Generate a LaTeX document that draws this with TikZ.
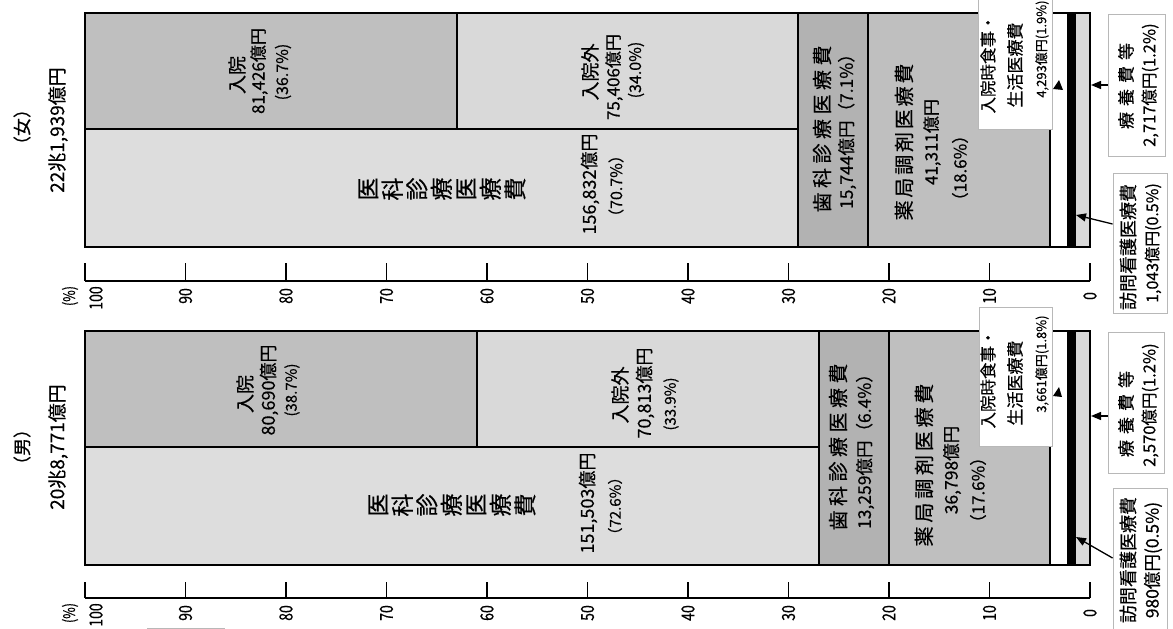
\documentclass[tikz,border=0pt]{standalone}
\usepackage{fontspec}
\setmainfont{Noto Sans CJK JP}[FakeBold=0.4]
\newfontfamily\jpn{Noto Sans CJK JP}[FakeStretch=0.78,FakeBold=0.4]
\usetikzlibrary{arrows.meta}
\definecolor{cNyuin}{gray}{0.75}
\definecolor{cGai}{gray}{0.85}
\definecolor{cIka}{gray}{0.865}
\definecolor{cShika}{gray}{0.70}
\definecolor{cYak}{gray}{0.75}
\definecolor{cRyo}{gray}{0.85}
\definecolor{cBox}{gray}{0.72}
\newcommand\fs[1]{\fontsize{#1}{#1}\selectfont}
\makeatletter
\newcommand\lsp[2]{\def\lsp@k{#1}\@tfor\lsp@c:=#2\do{\lsp@c\kern\lsp@k}\kern-\lsp@k}
\makeatother
\begin{document}
\begin{tikzpicture}[x=1pt,y=-1pt,
  seg/.style={draw=black,line width=1.4pt},
  outline/.style={draw=black,line width=1.8pt},
  rt/.style={rotate=90,inner sep=0pt,anchor=center},
  callout/.style={draw=cBox,fill=white,line width=0.9pt,inner sep=0pt},
  arr/.style={-{Triangle[length=10pt,width=8pt]},line width=1.3pt},
  axisline/.style={line width=1.8pt},
]
\useasboundingbox (0,0) rectangle (1173,629);
\fill[white] (0,0) rectangle (1173,629);

% #1 top y, #2 mid y, #3 bottom y, #4 nyuin divider x, #5 ika end x, #6 shika end x
\newcommand\bars[6]{%
  \filldraw[seg,fill=cNyuin] (85,#1) rectangle (#4,#2);
  \filldraw[seg,fill=cGai] (#4,#1) rectangle (#5,#2);
  \filldraw[seg,fill=cIka] (85,#2) rectangle (#5,#3);
  \filldraw[seg,fill=cShika] (#5,#1) rectangle (#6,#3);
  \filldraw[seg,fill=cYak] (#6,#1) rectangle (1050,#3);
  \filldraw[seg,fill=white] (1050,#1) rectangle (1068,#3);
  \filldraw[seg,fill=black] (1068,#1) rectangle (1075,#3);
  \filldraw[seg,fill=cRyo] (1075,#1) rectangle (1090,#3);
  \draw[outline] (85,#1) rectangle (1090,#3);
}
\newcommand\axis[3]{% #1 axis y, #2 tick top y, #3 label y
  \draw[axisline] (85,#1) -- (1090,#1);
  \foreach \p in {0,10,...,100}{
    \draw[axisline] ({1090-10.05*\p},#2) -- ({1090-10.05*\p},#1);
  }
  \foreach \p in {0,10,...,90}{
    \node[rt,font=\jpn\fs{18}] at ({1090-10.05*\p},#3) {\p};
  }
  \node[rt,font=\jpn\fs{18}] at (96,#3+2) {100};
  \node[rt,font=\jpn\fs{16}] at (70,#3) {(\%)};
}

\bars{13}{129}{247}{457}{798}{868}
\axis{281}{263}{296}
\bars{331}{447}{565}{477}{819}{889}
\axis{598}{582}{613}

% ---------- top chart ----------
\node[rt,font=\fs{18}] (f-sex) at (22,127) {（女）};
\node[rt,font=\fs{19}] (f-total) at (58,130) {22兆1,939億円};

\node[rt,font=\fs{19}] (f-in1) at (237,75) {入院};
\node[rt,font=\fs{17}] (f-in2) at (259,71) {81,426億円};
\node[rt,font=\fs{16}] (f-in3) at (283,72) {(36.7\%)};

\node[rt,font=\fs{19}] (f-out1) at (590,72) {入院外};
\node[rt,font=\fs{17}] (f-out2) at (614,77) {75,406億円};
\node[rt,font=\fs{16}] (f-out3) at (636,70) {(34.0\%)};

\node[rt,font=\fontsize{23}{24.5}\selectfont,align=center] (f-ika) at (442,189) {医\\科\\診\\療\\医\\療\\費};
\node[rt,font=\fs{18}] (f-ika2) at (590,184) {156,832億円};
\node[rt,font=\fs{16}] (f-ika3) at (616,186) {（70.7\%）};

\node[rt,font=\fs{20}] (f-sh1) at (822,129) {\lsp{4.5pt}{歯科診療医療費}};
\node[rt,font=\fs{17.5}] (f-sh2) at (847,127) {15,744億円（7.1\%）};

\node[rt,font=\fs{20}] (f-yk1) at (904,142) {\lsp{2.8pt}{薬局調剤医療費}};
\node[rt,font=\fs{17}] (f-yk2) at (932,142) {41,311億円};
\node[rt,font=\fs{17}] (f-yk3) at (960,168) {（18.6\%）};

\node[callout,minimum width=74pt,minimum height=149pt] (f-box1) at (1015,54.5) {};
\node[rt,font=\fs{16.5}] (f-b1a) at (988,64) {入院時食事・};
\node[rt,font=\fs{17}] (f-b1b) at (1015,65) {生活医療費};
\node[rt,font=\fs{13}] (f-b1c) at (1042,49) {4,293億円(1.9\%)};
\fill (1053,89) -- (1063,90) -- (1059,80) -- cycle;

\node[callout,minimum width=57pt,minimum height=142pt] (f-box2) at (1136.5,85) {};
\node[rt,font=\fs{17}] (f-b2a) at (1126,86) {\lsp{6pt}{療養費等}};
\node[rt,font=\fs{16.5}] (f-b2b) at (1150,85) {2,717億円(1.2\%)};
\coordinate (f-ryo) at (1091,85);
\draw[arr] (f-box2.west) -- (f-ryo);

\node[callout,minimum width=54pt,minimum height=140pt] (f-box3) at (1140,243) {};
\node[rt,font=\fs{18}] (f-b3a) at (1128,247) {訪問看護医療費};
\node[rt,font=\fs{16}] (f-b3b) at (1153,243) {1,043億円(0.5\%)};
\coordinate (f-hk) at (1076,215);
\draw[arr] ([yshift=19pt]f-box3.west) -- (f-hk);

% ---------- bottom chart ----------
\node[rt,font=\fs{18}] (m-sex) at (22,447) {（男）};
\node[rt,font=\fs{19}] (m-total) at (58,447) {20兆8,771億円};

\node[rt,font=\fs{19}] (m-in1) at (245,394) {入院};
\node[rt,font=\fs{18}] (m-in2) at (269,390) {80,690億円};
\node[rt,font=\fs{15}] (m-in3) at (292,390) {(38.7\%)};

\node[rt,font=\fs{19}] (m-out1) at (620,395) {入院外};
\node[rt,font=\fs{18}] (m-out2) at (645,393) {70,813億円};
\node[rt,font=\fs{15}] (m-out3) at (671,404) {(33.9\%)};

\node[rt,font=\fontsize{23}{24.5}\selectfont,align=center] (m-ika) at (452,505) {医\\科\\診\\療\\医\\療\\費};
\node[rt,font=\fs{18}] (m-ika2) at (588,503) {151,503億円};
\node[rt,font=\fs{15}] (m-ika3) at (615,506) {（72.6\%）};

\node[rt,font=\fs{20}] (m-sh1) at (838,447) {\lsp{4.5pt}{歯科診療医療費}};
\node[rt,font=\fs{17.5}] (m-sh2) at (865,447) {13,259億円（6.4\%）};

\node[rt,font=\fs{20}] (m-yk1) at (924,465) {\lsp{3.8pt}{薬局調剤医療費}};
\node[rt,font=\fs{17.5}] (m-yk2) at (952,470) {36,798億円};
\node[rt,font=\fs{17}] (m-yk3) at (978,490) {（17.6\%）};

\node[callout,minimum width=73pt,minimum height=139pt] (m-box1) at (1015.5,376.5) {};
\node[rt,font=\fs{16.5}] (m-b1a) at (988,379) {入院時食事・};
\node[rt,font=\fs{17}] (m-b1b) at (1015,383) {生活医療費};
\node[rt,font=\fs{13}] (m-b1c) at (1042,364) {3,661億円(1.8\%)};
\fill (1053,396) -- (1062,397) -- (1059,387) -- cycle;

\node[callout,minimum width=56pt,minimum height=141pt] (m-box2) at (1136,402.5) {};
\node[rt,font=\fs{17}] (m-b2a) at (1126,414) {\lsp{6pt}{療養費等}};
\node[rt,font=\fs{16.5}] (m-b2b) at (1150,405) {2,570億円(1.2\%)};
\coordinate (m-ryo) at (1091,416);
\draw[arr] ([yshift=-13.5pt]m-box2.west) -- (m-ryo);

\node[callout,minimum width=54pt,minimum height=152pt] (m-box3) at (1140,564) {};
\node[rt,font=\fs{18}] (m-b3a) at (1128,560) {訪問看護医療費};
\node[rt,font=\fs{17.5}] (m-b3b) at (1153,560) {980億円(0.5\%)};
\coordinate (m-hk) at (1076,537);
\draw[arr] ([yshift=6pt]m-box3.west) -- (m-hk);

\draw[cBox,line width=0.9pt] (147,628) -- (225,628);
\end{tikzpicture}
\end{document}
